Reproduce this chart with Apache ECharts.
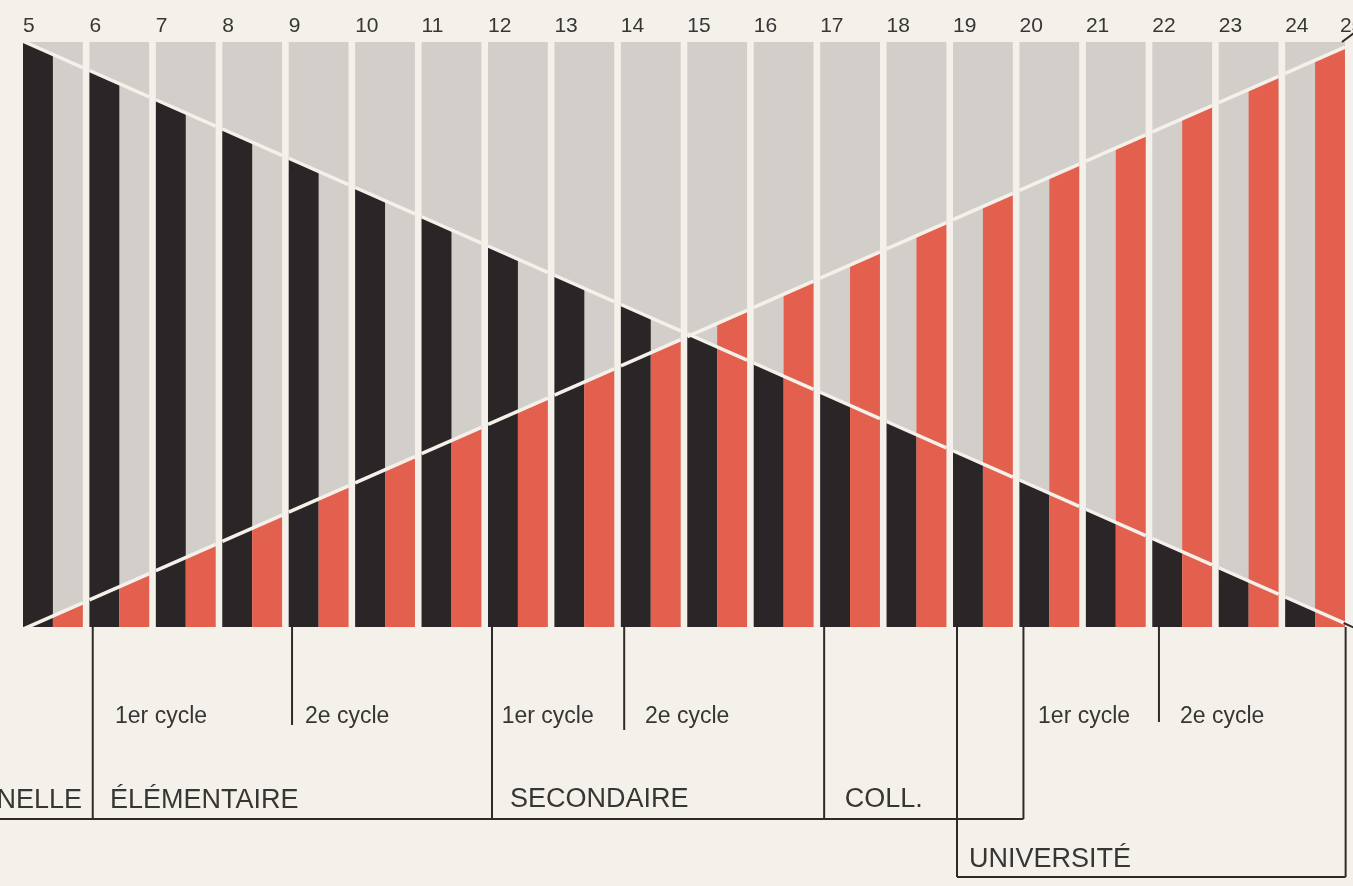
<!DOCTYPE html>
<html><head><meta charset="utf-8">
<script src="https://cdn.jsdelivr.net/npm/echarts@6/dist/echarts.min.js"></script>
<style>html,body{margin:0;padding:0;background:#f4f1eb;}#c{width:1353px;height:886px;}</style>
</head><body><div id="c"></div>
<script>
// ---------- DATA ----------
const ages = [5,6,7,8,9,10,11,12,13,14,15,16,17,18,19,20,21,22,23,24];
const tickLabels = ['5','6','7','8','9','10','11','12','13','14','15','16','17','18','19','20','21','22','23','24','25'];
// share (0-100) of the black strip at each age (read at strip centre)
const blackShare = [99,94,89,84,79,74,69,64,59,54,49,44,39,34,29,24,19,14,9,4];
// share (0-100) of the red strip at each age (read at strip centre)
const redShare = [3,8,13,18,23,28,33,38,43,48,53,58,63,68,73,78,83,88,93,98];
const stageNames = ['MATERNELLE','ÉLÉMENTAIRE','SECONDAIRE','COLL.','UNIVERSITÉ'];
const cycleNames = ['1er cycle','2e cycle'];

// ---------- LAYOUT / STYLE ----------
const BG='#f4f1eb', GREY='#d2cfcb', BLACK='#2a2526', RED='#e4604e', INK='#2f2b2b', TXT='#383535';
const PAIR = 0.9;
const FONT = '"Liberation Sans", Arial, sans-serif';
// vertical bracket lines: [age position, end y px]
const vLines = [[6.05,819],[9.05,725],[12.06,819],[14.05,730],[17.06,819],[19.06,877],[20.06,819],[22.1,722],[24.91,877]];
// horizontal bracket lines: [from age, to age, y px]
const hLines = [[4.6,20.06,819],[19.06,24.91,877]];
// stage labels: [name index, age position, baseline px, align]
const stagePos = [[0,5.89,809,'right'],[1,6.31,809,'left'],[2,12.33,808,'left'],[3,17.37,808,'left'],[4,19.24,868,'left']];
// cycle labels: [name index, age position]
const cyclePos = [[0,6.385],[1,9.245],[0,12.206],[1,14.363],[0,20.28],[1,22.417]];

function slope(arr,i){
  const n=arr.length, j0=Math.max(0,i-1), j1=Math.min(n-1,i+1);
  return (arr[j1]-arr[j0])/(ages[j1]-ages[j0]);
}
const clamp=v=>Math.max(0,Math.min(100,v));

function renderPair(params, api){
  const i = params.dataIndex;
  const a = api.value(0), vb = api.value(1), vr = api.value(2);
  const sb = slope(blackShare,i), sr = slope(redShare,i);
  const x0=a, xm=a+PAIR/2, x1=a+PAIR, xcB=a+PAIR/4, xcR=a+3*PAIR/4;
  const lB=x=>vb+sb*(x-xcB), lR=x=>vr+sr*(x-xcR);
  const P=(x,y)=>api.coord([x,y]);
  const wl=(f)=>{const p=P(x0,f(x0)), q=P(x1,f(x1)); return {type:'line',shape:{x1:p[0],y1:p[1],x2:q[0],y2:q[1]},style:{stroke:BG,lineWidth:3.5}};};
  return {type:'group',children:[
    {type:'polygon',shape:{points:[P(x0,0),P(x1,0),P(x1,100),P(x0,100)]},style:{fill:GREY}},
    {type:'polygon',shape:{points:[P(x0,0),P(xm,0),P(xm,clamp(lB(xm))),P(x0,clamp(lB(x0)))]},style:{fill:BLACK}},
    {type:'polygon',shape:{points:[P(xm,0),P(x1,0),P(x1,clamp(lR(x1))),P(xm,clamp(lR(xm)))]},style:{fill:RED}},
    wl(lB), wl(lR)
  ]};
}

function renderNotes(params, api){
  const X=a=>api.coord([a,0])[0];
  const base=api.coord([5,0])[1];
  const ch=[];
  const seg=(x1,y1,x2,y2)=>ch.push({type:'line',shape:{x1,y1,x2,y2},style:{stroke:INK,lineWidth:2}});
  vLines.forEach(([a,y])=>seg(X(a),base,X(a),y));
  hLines.forEach(([a,b,y])=>seg(X(a),y,X(b),y));
  const top=api.coord([24.9,100]);
  seg(top[0]-3,top[1],top[0]+9,top[1]-9);
  seg(X(24.91)-2,base-4,X(24.91)+9,base+1);
  stagePos.forEach(([k,a,bl,al])=>ch.push({type:'text',x:X(a),y:bl-0.31*27,style:{text:stageNames[k],fill:TXT,font:'27px '+FONT,align:al,verticalAlign:'middle'}}));
  cyclePos.forEach(([k,a])=>ch.push({type:'text',x:X(a),y:724-0.31*23,style:{text:cycleNames[k],fill:TXT,font:'23px '+FONT,align:'left',verticalAlign:'middle'}}));
  return {type:'group',children:ch};
}

const chart = echarts.init(document.getElementById('c'));
chart.setOption({
  backgroundColor: BG,
  animation:false,
  grid:{left:23,right:1.4,top:42,bottom:259,outerBoundsMode:'none',containLabel:false},
  xAxis:{type:'value',min:5,max:25,interval:1,position:'top',
    axisLine:{show:false},axisTick:{show:false},splitLine:{show:false},
    axisLabel:{show:true,showMinLabel:true,showMaxLabel:true,align:'left',alignMaxLabel:'center',margin:5,
      color:TXT,fontSize:21,fontFamily:FONT,
      formatter:v=>tickLabels[Math.round(v)-5]}},
  yAxis:{type:'value',min:0,max:100,show:false},
  series:[
    {type:'custom',renderItem:renderPair,data:ages.map((a,i)=>[a,blackShare[i],redShare[i]]),encode:{x:0,y:1}},
    {type:'custom',renderItem:renderNotes,data:[[5,0]],encode:{x:0,y:1},clip:false,z:5}
  ]
});
</script></body></html>
